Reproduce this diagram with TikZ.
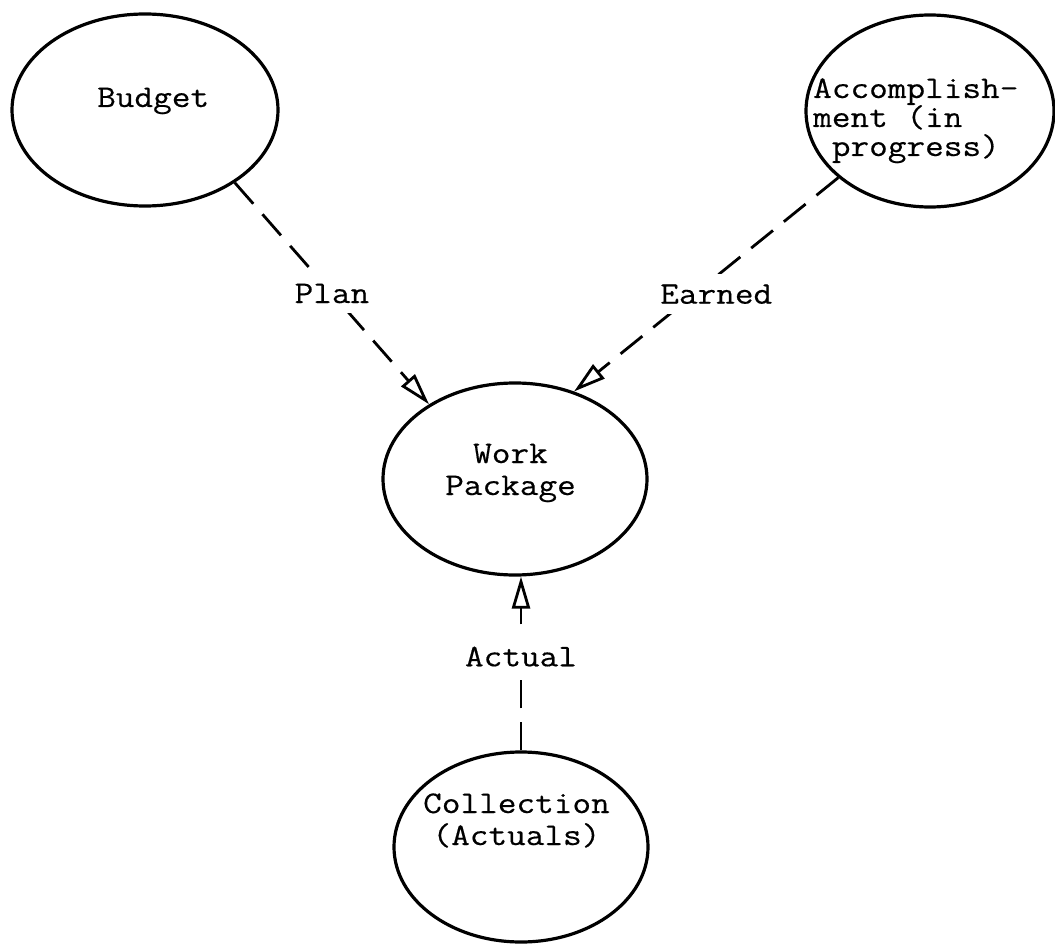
\documentclass[tikz,border=0pt]{standalone}
\usepackage{fontspec}
\usetikzlibrary{shapes.geometric,arrows.meta}

% typewriter lettering used for every label
\newfontfamily\typeface{Latin Modern Mono}[FakeStretch=1.15, FakeBold=0.4]
\newcommand\typed{\typeface\fontsize{31.5}{32}\selectfont}
% stacked lines with a fixed line pitch; first baseline is the box baseline
\newcommand\stackleft[2]{\vtop{\baselineskip=#1\lineskiplimit=-100pt\lineskip=0pt
  \halign{##\hfil\cr#2\crcr}}}
\newcommand\stackmid[2]{\vtop{\baselineskip=#1\lineskiplimit=-100pt\lineskip=0pt
  \halign{\hfil##\hfil\cr#2\crcr}}}

\tikzset{
  bubble/.style={ellipse, draw, line width=3.2pt, inner sep=0pt},
  caption/.style={font=\typed, inner sep=0pt, anchor=base west},
  flow/.style={draw, line width=2.8pt, dash pattern=on 28pt off 14pt,
    -{Triangle[open, length=32pt, width=18pt, line width=2.8pt]}},
  flowlabel/.style={font=\typed, fill=white, inner xsep=5pt, inner ysep=10pt}
}

\begin{document}
\begin{tikzpicture}[x=1pt, y=-1pt]
  \useasboundingbox (0,0) rectangle (1055,944);

  % the four activities
  \node[bubble, minimum width=266pt, minimum height=192pt] (budget) at (145,110) {};
  \node[bubble, minimum width=248pt, minimum height=192pt] (acc) at (930,111) {};
  \node[bubble, minimum width=264pt, minimum height=192pt] (wp) at (515,479) {};
  \node[bubble, minimum width=254pt, minimum height=190pt] (coll) at (521,847) {};

  % their captions
  \node[caption] (budget-text) at (97,107) {Budget};
  \node[caption] (acc-text) at (813,98)
    {\stackleft{29pt}{Accomplish-\cr ment (in\cr \ progress)}};
  \node[caption] (wp-text) at (445,463)
    {\stackmid{32pt}{Work\cr Package}};
  \node[caption] (coll-text) at (423,813)
    {\stackmid{32pt}{Collection\cr (Actuals)}};

  % flows into the work package
  \draw[flow] (budget.-39) -- node[flowlabel, pos=0.5] (plan) {Plan} (wp.139);
  \draw[flow] (acc.216) -- node[flowlabel, pos=0.545, xshift=22pt] (earned) {Earned} (wp.56);
  \draw[flow] (coll.north) -- node[flowlabel, pos=0.54] (actual) {Actual} (coll.north |- wp.south);
\end{tikzpicture}
\end{document}
